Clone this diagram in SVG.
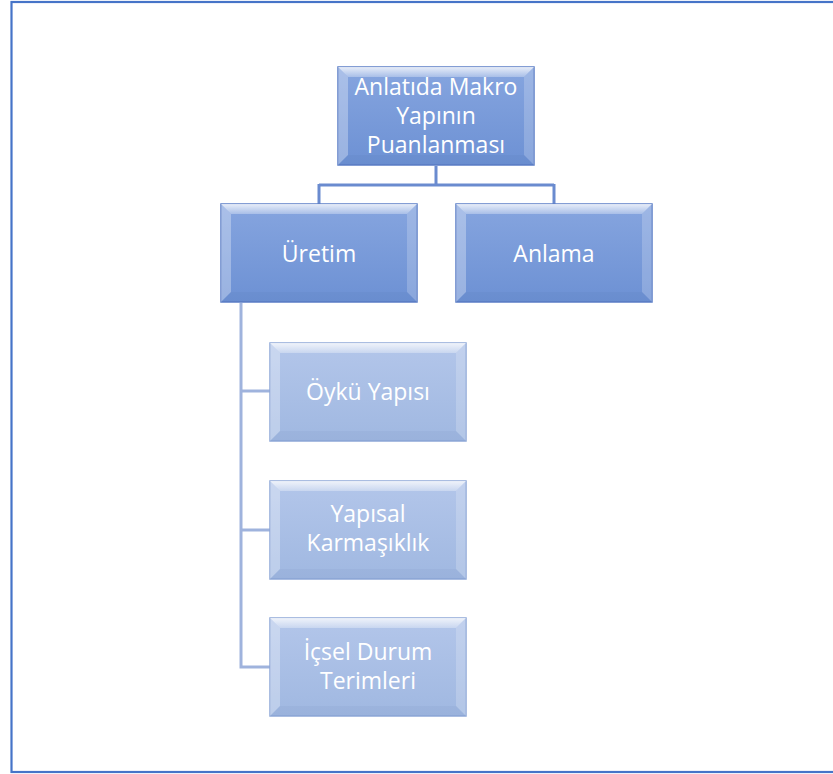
<svg xmlns="http://www.w3.org/2000/svg" xmlns:xlink="http://www.w3.org/1999/xlink" width="833" height="774" viewBox="0 0 833 774">
<defs>
<style>
.t{font-family:"Open Sans","Noto Sans",sans-serif;font-size:23px;fill:#ffffff;text-anchor:middle}
.c1{fill:none;stroke:#6a8bcf;stroke-width:3}
.c2{fill:none;stroke:#9fb3dd;stroke-width:3}
</style>
<linearGradient id="gDark" x1="0" y1="0" x2="0" y2="1">
<stop offset="0" stop-color="#86a5df"/>
<stop offset="1" stop-color="#6d91d4"/>
</linearGradient>
<linearGradient id="gLight" x1="0" y1="0" x2="0" y2="1">
<stop offset="0" stop-color="#b3c6ea"/>
<stop offset="1" stop-color="#a0b8e1"/>
</linearGradient>
<linearGradient id="gTop" x1="0" y1="0" x2="0" y2="1">
<stop offset="0" stop-color="#ffffff" stop-opacity="0.8"/>
<stop offset="1" stop-color="#ffffff" stop-opacity="0.3"/>
</linearGradient>
<g id="bevel">
<polygon points="0,0 196,0 186,10 10,10" fill="url(#gTop)"/>
<polygon points="0,0 10,10 10,88 0,98" fill="#ffffff" fill-opacity="0.3"/>
<polygon points="196,0 196,98 186,88 186,10" fill="#ffffff" fill-opacity="0.2"/>
<polygon points="0,98 10,88 186,88 196,98" fill="#203060" fill-opacity="0.04"/>
</g>
<g id="boxDark">
<rect x="0" y="0" width="196" height="98" fill="url(#gDark)" stroke="#5b7ec6" stroke-width="1.5"/>
<use xlink:href="#bevel" href="#bevel"/>
</g>
<g id="boxLight">
<rect x="0" y="0" width="196" height="98" fill="url(#gLight)" stroke="#8ea8d8" stroke-width="1.5"/>
<use xlink:href="#bevel" href="#bevel"/>
</g>
</defs>
<rect x="0" y="0" width="833" height="774" fill="#ffffff"/>
<rect x="11.5" y="2" width="840" height="770" fill="none" stroke="#4674c8" stroke-width="2.2"/>
<g id="connectors">
<path class="c1" d="M436,166 V185 M319,185 H554 M319,184 V204 M554,184 V204"/>
<path class="c2" d="M241,303 V667 H270 M241,391 H270 M241,530 H270"/>
</g>
<g id="root">
<use xlink:href="#boxDark" href="#boxDark" x="338" y="67"/>
<text class="t" x="436" y="95">Anlatıda Makro</text>
<text class="t" x="436" y="124">Yapının</text>
<text class="t" x="436" y="153">Puanlanması</text>
</g>
<g id="uretim">
<use xlink:href="#boxDark" href="#boxDark" x="221" y="204"/>
<text class="t" x="319" y="262">Üretim</text>
</g>
<g id="anlama">
<use xlink:href="#boxDark" href="#boxDark" x="456" y="204"/>
<text class="t" x="554" y="262">Anlama</text>
</g>
<g id="oyku">
<use xlink:href="#boxLight" href="#boxLight" x="270" y="343"/>
<text class="t" x="368" y="400">Öykü Yapısı</text>
</g>
<g id="yapisal">
<use xlink:href="#boxLight" href="#boxLight" x="270" y="481"/>
<text class="t" x="368" y="522">Yapısal</text>
<text class="t" x="368" y="551">Karmaşıklık</text>
</g>
<g id="icsel">
<use xlink:href="#boxLight" href="#boxLight" x="270" y="618"/>
<text class="t" x="368" y="660">İçsel Durum</text>
<text class="t" x="368" y="689">Terimleri</text>
</g>
</svg>
